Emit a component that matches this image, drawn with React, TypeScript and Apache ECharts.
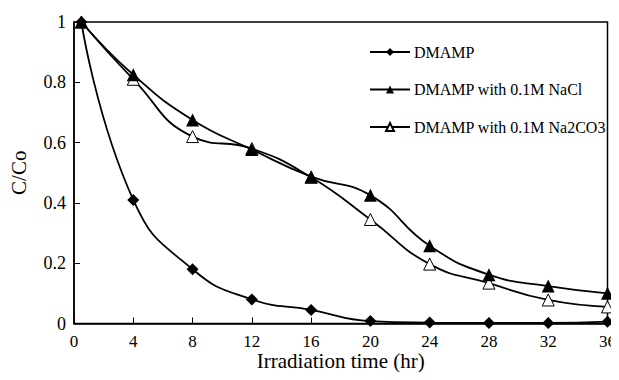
import React, { useEffect, useRef } from "react";
import * as echarts from "echarts";

const times = [0.5, 4, 8, 12, 16, 20, 24, 28, 32, 36];
const dmamp = [1, 0.41, 0.18, 0.08, 0.045, 0.008, 0.003, 0.002, 0.002, 0.006];
const dmampNaCl = [1, 0.825, 0.675, 0.577, 0.487, 0.425, 0.258, 0.162, 0.124, 0.1];
const dmampNa2CO3 = [1, 0.81, 0.62, 0.58, 0.485, 0.345, 0.197, 0.134, 0.078, 0.055];
const seriesNames = ["DMAMP", "DMAMP with 0.1M NaCl", "DMAMP with 0.1M Na2CO3"];
const xTitle = "Irradiation time (hr)";
const yTitle = "C/Co";

const FONT = "Liberation Serif";

function pairs(vals: number[]) {
  return times.map((t, i) => [t, vals[i]]);
}

export default function App() {
  const ref = useRef<HTMLDivElement>(null);
  useEffect(() => {
    if (!ref.current) return;
    const chart = echarts.init(ref.current, undefined, { renderer: "svg" });
    const lineStyle = { color: "#000", width: 1.8 };
    chart.setOption({
      animation: false,
      backgroundColor: "#fff",
      textStyle: { fontFamily: FONT, color: "#000" },
      grid: {
        left: 73.5,
        right: 3.5,
        top: 22,
        bottom: 56.5,
        show: true,
        borderColor: "#000",
        borderWidth: 1.5,
      },
      legend: {
        orient: "vertical",
        left: 364,
        top: 39,
        itemWidth: 40,
        itemHeight: 10,
        itemGap: 21.5,
        textStyle: { fontFamily: FONT, fontSize: 16, lineHeight: 16, color: "#000", padding: [0, 0, 0, -1] },
        data: seriesNames,
      },
      xAxis: {
        type: "value",
        min: 0,
        max: 36,
        interval: 4,
        name: xTitle,
        nameLocation: "middle",
        nameGap: 27,
        nameMoveOverlap: false,
        nameTextStyle: { fontFamily: FONT, fontSize: 21, color: "#000" },
        axisLine: { show: true, lineStyle: { color: "#000", width: 1.5 } },
        axisTick: { show: true, inside: true, length: 6, lineStyle: { color: "#000" } },
        axisLabel: { fontFamily: FONT, fontSize: 17, color: "#000", margin: 9 },
        splitLine: { show: false },
      },
      yAxis: {
        type: "value",
        min: 0,
        max: 1,
        interval: 0.2,
        name: yTitle,
        nameLocation: "middle",
        nameGap: 45,
        nameMoveOverlap: false,
        nameRotate: 90,
        nameTextStyle: { fontFamily: FONT, fontSize: 21, color: "#000000" },
        axisLine: { show: true, lineStyle: { color: "#000", width: 1.5 } },
        axisTick: { show: true, inside: true, length: 6, lineStyle: { color: "#000" } },
        axisLabel: { fontFamily: FONT, fontSize: 18, color: "#000", margin: 8 },
        splitLine: { show: false },
      },
      series: [
        {
          name: seriesNames[0],
          type: "line",
          smooth: 0.5,
          data: pairs(dmamp),
          symbol: "diamond",
          symbolSize: 12,
          lineStyle,
          itemStyle: { color: "#000" },
          z: 3,
        },
        {
          name: seriesNames[1],
          type: "line",
          smooth: 0.5,
          data: pairs(dmampNaCl),
          symbol: "triangle",
          symbolSize: 13,
          lineStyle,
          itemStyle: { color: "#000" },
          z: 4,
        },
        {
          name: seriesNames[2],
          type: "line",
          smooth: 0.5,
          data: pairs(dmampNa2CO3),
          symbol: "triangle",
          symbolSize: 12,
          lineStyle,
          itemStyle: { color: "#fff", borderColor: "#000", borderWidth: 1 },
          z: 2,
        },
      ],
    });
    return () => chart.dispose();
  }, []);
  return <div ref={ref} style={{ width: 619, height: 380, margin: -8 }} />;
}
